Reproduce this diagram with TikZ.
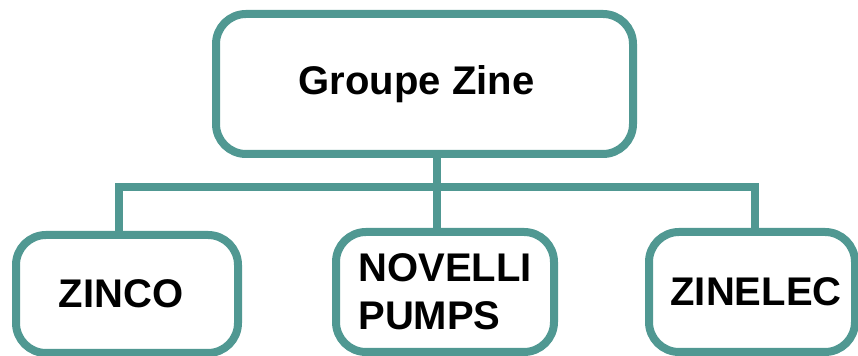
\documentclass[tikz,border=0pt]{standalone}
\usepackage{fontspec}
\setmainfont{Liberation Sans}
\definecolor{ZineTeal}{RGB}{80, 152, 146}
\usetikzlibrary{positioning}

\begin{document}
\begin{tikzpicture}[x=0.5pt, y=-0.5pt,
	unit/.style={draw=ZineTeal, line width=4pt, rounded corners=15pt, fill=white, align=center, font=\fontsize{20}{24}\selectfont\bfseries, inner sep=0pt, minimum height=60pt},
	link/.style={draw=ZineTeal, line width=4pt}]
	\useasboundingbox (0,0) rectangle (858,356);
	\node[unit, minimum width=208.5pt, minimum height=70pt] (grp) at (424.5,84) {Groupe Zine\hspace*{8pt}};
	\node[unit, minimum width=111pt, minimum height=59pt] (zinco) at (127,294) {ZINCO\hspace*{6pt}};
	\node[unit, minimum width=109pt, align=left] (novelli) at (445,292) {NOVELLI\\PUMPS};
	\node[unit, minimum width=103pt] (zinelec) at (752,292) {\hspace*{4pt}ZINELEC};
	% bus between the group and its companies
	\coordinate (bus) at (437,187);
	\draw[link] (grp.south -| bus) -- (novelli.north -| bus);
	\draw[link] ([xshift=-4pt]zinco.north) |- (bus) -| ([xshift=1.5pt]zinelec.north);
\end{tikzpicture}
\end{document}
